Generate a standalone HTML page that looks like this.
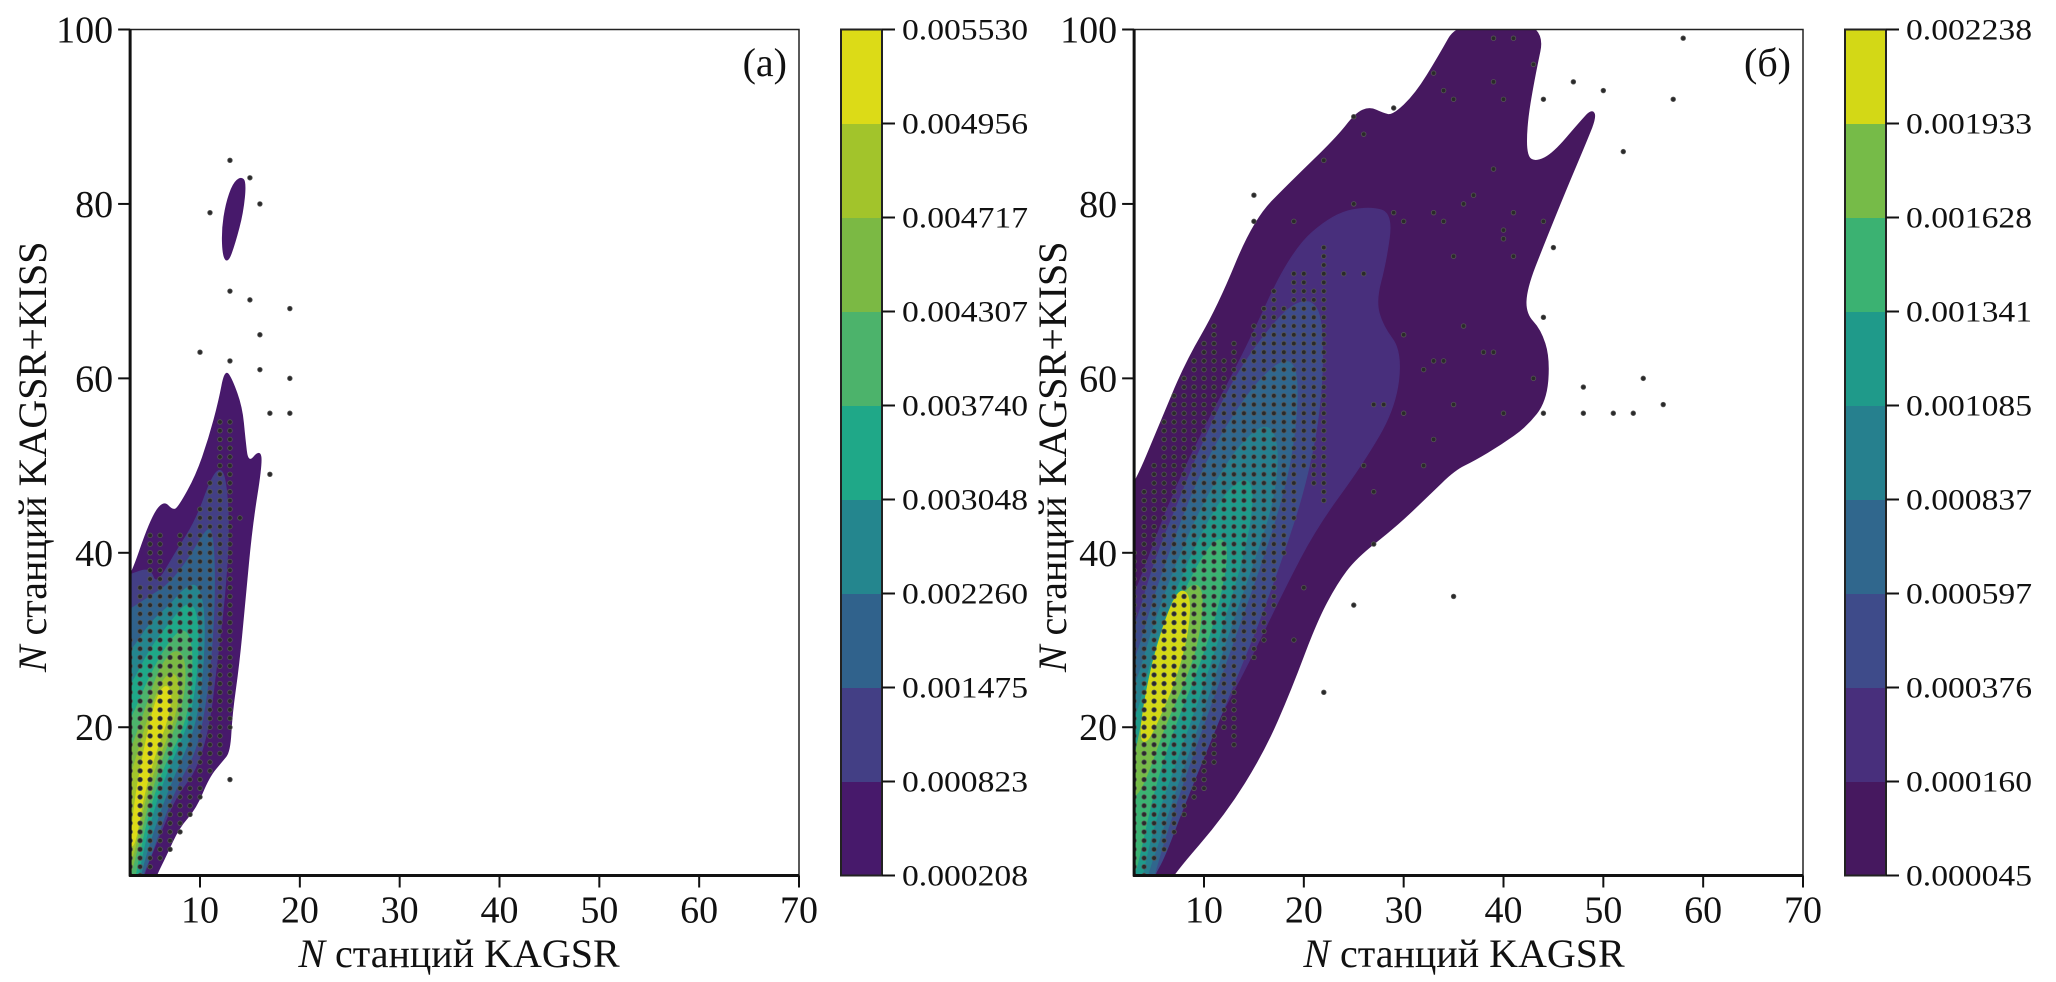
<!DOCTYPE html>
<html><head><meta charset="utf-8">
<style>
html,body{margin:0;padding:0;background:#fff;}
svg{display:block;}
text{font-family:"Liberation Serif",serif;fill:#111;}
</style></head>
<body>
<svg id="fig" width="2056" height="982" viewBox="0 0 2056 982" xmlns="http://www.w3.org/2000/svg"></svg>
<script>
// ---------- data ----------
const xTicks = [10,20,30,40,50,60,70];
const yTicks = [20,40,60,80,100];
const cbLabelsA = ['0.005530','0.004956','0.004717','0.004307','0.003740','0.003048','0.002260','0.001475','0.000823','0.000208'];
const cbLabelsB = ['0.002238','0.001933','0.001628','0.001341','0.001085','0.000837','0.000597','0.000376','0.000160','0.000045'];
const colorsA = ['#47196b','#433f85','#30628c','#24868e','#1fa888','#4cb36b','#7bb944','#a2c42b','#dcdb17'];
const colorsB = ['#46185f','#482f7c','#3e4b8a','#30678d','#26808e','#1f9a8a','#3bb272','#76bb48','#d3d816'];

// contour levels (data coords) panel a
const levelsA = [
 [[2,2],[2,36.5],[3,37],[5,43.7],[6.3,46],[7.3,44.8],[7.9,45.3],[9.6,48.8],[10.9,53.1],[11.9,57.4],[12.5,61],[13.2,59.9],[14.2,56.7],[14.5,53.1],[14.8,50.2],[16,51.8],[16.2,50.2],[15.2,43],[14.5,34.4],[13.9,27.2],[13.2,21.5],[13,17.2],[12.2,16.1],[10.9,14.3],[9.6,10.7],[7.9,8.5],[6.6,5.3],[5.6,3],[5,1]],
 [[2,2],[2,37],[3,37.5],[5,38.3],[5.6,36.2],[7.6,40.1],[9.6,43.7],[11.2,48.8],[12.2,49.8],[12.7,47.3],[12.9,42.3],[12.5,35.1],[11.6,26.5],[10.9,20],[9.6,15],[7.6,12.1],[6,7.8],[4.3,3],[4,1]],
 [[2,2],[2,33],[3,33.5],[5,35],[7,36.5],[9,39.5],[10.5,42.5],[11.2,42.8],[11.5,38],[11.3,30],[10.5,22],[9.5,17],[8,14],[6.5,10],[5,5],[4.2,3],[4,1]],
 [[2,2],[2,28],[3,28.5],[5,32],[7,34],[8.5,36],[9.8,36.5],[10.5,33],[10.3,26],[9.5,20],[8,16],[6.5,12],[5,7],[4,3],[3.8,1]],
 [[2,2],[2,24],[3,24.5],[5,29],[7,32],[8.8,34.5],[9.8,33],[9.8,27],[9,21],[7.5,17],[6,13],[4.5,7],[3.8,3],[3.6,1]],
 [[2,2],[2,20],[3,20.5],[5,26],[7,30],[8.5,31.5],[9.3,29],[9,23],[8,19],[6.5,16],[5,11],[3.8,5],[3.4,2]],
 [[2,3],[2,16],[3,17],[4.5,22],[6,27],[7.5,29],[8.5,28],[8.5,24],[7.5,20],[6,16],[4.5,10],[3.5,5],[3,3]],
 [[2,4],[2,13],[3,14],[4.5,20],[6,25],[7.2,26.5],[8,25],[7.5,21],[6,17],[4.5,12],[3.5,6],[3,4.5]],
 [[3,6],[3.5,12],[4.5,18],[5.5,23],[6.5,25],[7.2,24],[6.8,21],[5.5,17],[4.3,12],[3.6,7]]
];
const islandA = [[12.3,74],[12.2,77],[12.6,80],[13.3,82.3],[14.1,83.1],[14.6,82.5],[14.3,79],[13.5,75.5],[12.8,73.3]];

const levelsB = [
 [[2,2],[2,47],[3,47.7],[5.5,54.5],[8.1,61.7],[11.4,68.2],[15,78.2],[18.7,82.5],[23.3,87.6],[25.2,90.4],[26.6,91.1],[27.9,90.4],[28.9,90.1],[31.2,92.6],[33.5,96.9],[35.5,101],[44.3,101],[43,94],[42.3,89],[42.3,85.4],[43.3,84.8],[45,85.8],[47.6,89.3],[48.8,90.8],[49.3,90.1],[48.3,87.2],[46.3,81.8],[44,75.3],[42.3,70.3],[42.2,67.4],[43.7,65.6],[44.6,62.4],[44.3,57.4],[42.3,54.5],[39.7,52.4],[37.1,50.6],[35.1,49.5],[32.5,46.6],[29.2,43],[25.2,39.4],[23.3,36.5],[21.3,32.2],[18.7,24.3],[16,17.2],[12.1,10],[6.8,3],[6,1]],
 [[2,2],[2,35],[3,35.1],[4.2,38.7],[6.8,46.6],[10.1,54.5],[14.1,63.1],[18.7,74.6],[23,78.9],[26.6,79.7],[28.9,78.9],[28.2,73.2],[27.2,68.9],[27.9,66],[29.8,63.1],[29.2,56.7],[25.9,50.2],[21.3,43],[18,35.8],[14.7,27.9],[11.4,20.7],[8.1,13.6],[5.5,7.8],[4.2,3],[4,1]],
 [[2,2],[2,31],[3,31],[5,39],[7.5,46],[10,53],[13,60],[16,65],[19,68.8],[21.5,68.8],[22,63],[21.5,55],[20,47],[18,40],[15.5,32],[13,25],[10.5,18],[8,11],[6,5],[5,3],[4.5,1]],
 [[2,2],[2,27],[3,27],[5,35],[7.5,43],[10,50],[13,56],[16,60.5],[18.5,62.5],[19.5,60],[19,52],[17.5,45],[15.5,38],[13,30],[10.5,22],[8,14],[6,7],[5,3],[4.5,1]],
 [[2,2],[2,24],[3,24],[5,32],[8,41],[11,48],[14,53],[16.5,55],[17.5,52],[17,46],[15,39],[12.5,31],[10,22],[7.5,14],[5.5,7],[4.3,3],[4,1]],
 [[2,2],[2,20],[3,20],[5,29],[8,38],[11,45],[13.5,48.5],[15,48],[14.5,42],[12.5,34],[10,25],[7.5,17],[5,9],[3.8,3],[3.5,1]],
 [[2,3],[2,14],[3,14],[4.5,24],[7,33],[9.5,39],[11.5,42],[12.5,40.5],[11.5,34],[9.5,27],[7,20],[5,13],[3.5,5],[3,3]],
 [[2,12],[3,16],[4.5,25],[6.5,32],[8.5,36.5],[10,36],[9.5,30],[8,25],[6,20],[4.5,15],[3.3,12]],
 [[4.2,18],[3.5,19],[4.5,26],[6,32],[7.5,36],[8.7,35],[8.3,30],[7,25],[5.5,21]]
];

// scatter: columns [x, ymin, ymax] of integer-grid observations, plus outliers
const colsA = [[3,3,30],[4,3,36],[5,4,42],[6,5,42],[7,6,38],[8,8,42],[9,10,42],[10,12,45],[11,15,48],[12,17,55],[13,20,55]];
const outA = [[13,85],[15,83],[11,79],[16,80],[13,70],[15,69],[19,68],[10,63],[16,65],[13,62],[16,61],[19,60],[17,56],[19,56],[17,49],[13,14],[14,44]];
const colsB = [[3,3,40],[4,3,47],[5,5,50],[6,6,55],[7,8,58],[8,10,60],[9,12,62],[10,13,64],[11,16,66],[12,20,62],[13,18,64],[14,28,62],[15,28,66],[16,30,68],[17,34,70],[18,40,68],[19,44,72],[20,50,72],[21,48,70],[22,46,75]];
const outB = [[29,91],[22,85],[26,88],[25,90],[15,81],[15,78],[19,78],[25,80],[29,79],[30,78],[33,79],[34,78],[37,81],[39,84],[41,79],[40,77],[35,74],[44,78],[45,75],[41,74],[44,67],[38,63],[39,63],[33,62],[34,62],[30,65],[36,66],[32,61],[43,60],[44,56],[48,59],[48,56],[51,56],[53,56],[54,60],[56,57],[40,56],[35,57],[30,56],[27,57],[28,57],[33,53],[32,50],[26,50],[27,47],[27,41],[25,34],[35,35],[22,24],[19,30],[20,36],[33,95],[34,93],[39,99],[41,99],[43,96],[47,94],[50,93],[44,92],[57,92],[58,99],[52,86],[39,94],[40,92],[35,92],[36,80],[40,76],[26,72],[24,72]];

// ---------- drawing ----------
const NS='http://www.w3.org/2000/svg';
const svg=document.getElementById('fig');
function el(tag,attrs,parent){const e=document.createElementNS(NS,tag);for(const k in attrs)e.setAttribute(k,attrs[k]);(parent||svg).appendChild(e);return e;}

const yTop=29.5, yBot=875.5;
function yScale(v){return yBot-(v-3)*(yBot-yTop)/97;}

function smoothPath(P){
  const n=P.length;
  const mid=(a,b)=>[(a[0]+b[0])/2,(a[1]+b[1])/2];
  let m0=mid(P[n-1],P[0]);
  let d='M'+m0[0].toFixed(1)+','+m0[1].toFixed(1);
  for(let i=0;i<n;i++){
    const c=P[i], m=mid(P[i],P[(i+1)%n]);
    d+='Q'+c[0].toFixed(1)+','+c[1].toFixed(1)+' '+m[0].toFixed(1)+','+m[1].toFixed(1);
  }
  return d+'Z';
}

function panel(opts){
  const g=el('g',{});
  
  
  const x10=opts.x10, x70=opts.x70, per=(x70-x10)/60;
  const xS=v=>x10+(v-10)*per;
  const xL=xS(3);
  const clip=el('clipPath',{id:'clip'+opts.id},g);
  el('rect',{x:xL,y:yTop,width:x70-xL,height:yBot-yTop},clip);
  const cg=el('g',{'clip-path':'url(#clip'+opts.id+')'},g);
  const toPath=pts=>smoothPath(pts.map(p=>[xS(p[0]),yScale(p[1])]));
  opts.levels.forEach((pts,i)=>{
    const p=el('path',{d:toPath(pts),fill:opts.colors[i],stroke:opts.colors[i],'stroke-width':1,'stroke-linejoin':'round'},cg);
    
    
  });
  if(opts.island){
    const p=el('path',{d:toPath(opts.island),fill:opts.colors[0],stroke:opts.colors[0],'stroke-linejoin':'round'},cg);
    
    
  }
  const pg=el('g',{fill:'#2a2a2a',stroke:'#555','stroke-width':0.8},cg);
  
  
  opts.cols.forEach(c=>{for(let y=c[1];y<=c[2];y++){const d=el('circle',{cx:xS(c[0]),cy:yScale(y),r:2.3},pg);
    
    }});
  opts.out.forEach(o=>{const d=el('circle',{cx:xS(o[0]),cy:yScale(o[1]),r:2.3},pg);
    
    });
  // frame
  const fr=el('rect',{x:xL,y:yTop,width:x70-xL,height:yBot-yTop,fill:'none',stroke:'#222','stroke-width':1.5},g);
  
  
  el('line',{x1:xL,y1:yTop,x2:xL,y2:yBot+1,stroke:'#111','stroke-width':3},g);
  el('line',{x1:xL-1,y1:yBot,x2:x70,y2:yBot,stroke:'#111','stroke-width':3},g);
  xTicks.forEach(t=>{
    el('line',{x1:xS(t),y1:yBot,x2:xS(t),y2:yBot+12,stroke:'#111','stroke-width':2},g);
    const tx=el('text',{x:xS(t),y:yBot+47,'text-anchor':'middle','font-size':38},g);
    tx.textContent=t;
    
    
  });
  yTicks.forEach(t=>{
    el('line',{x1:xL-12,y1:yScale(t),x2:xL,y2:yScale(t),stroke:'#111','stroke-width':2},g);
    const tx=el('text',{x:xL-17,y:yScale(t)+13,'text-anchor':'end','font-size':38},g);
    tx.textContent=t;
    
    
  });
  const xl=el('text',{x:opts.xlabX,y:967,'text-anchor':'middle','font-size':40},g);
  xl.innerHTML='<tspan font-style="italic">N</tspan> станций KAGSR';
  
  
  const yl=el('text',{x:0,y:0,'text-anchor':'middle','font-size':40,transform:'translate('+opts.ylabX+','+(yScale(51))+') rotate(-90)'},g);
  yl.innerHTML='<tspan font-style="italic">N</tspan> станций KAGSR+KISS';
  
  
  const pl=el('text',{x:x70-12,y:76,'text-anchor':'end','font-size':40},g);
  pl.textContent=opts.tag;
  
  
  // colorbar
  const cb=el('g',{},g);
  
  
  const n=opts.colors.length, bh=(yBot-yTop)/n;
  opts.colors.forEach((c,i)=>{
    el('rect',{x:opts.cbX,y:yBot-(i+1)*bh,width:41,height:bh+0.5,fill:c},cb);
  });
  el('rect',{x:opts.cbX,y:yTop,width:41,height:yBot-yTop,fill:'none',stroke:'#222','stroke-width':2},cb);
  opts.cbLabels.forEach((lab,i)=>{
    const y=yTop+i*bh;
    el('line',{x1:opts.cbX+41,y1:y,x2:opts.cbX+54,y2:y,stroke:'#111','stroke-width':2},cb);
    const tx=el('text',{x:opts.cbX+61,y:y+10,'font-size':30,textLength:126,lengthAdjust:'spacingAndGlyphs'},cb);
    tx.textContent=lab;
    
    
  });
}

panel({id:'a',name:'panel-a',x10:200,x70:799,levels:levelsA,island:islandA,colors:colorsA,cols:colsA,out:outA,
  xlabX:459,ylabX:46,tag:'(a)',cbX:841,cbLabels:cbLabelsA});
panel({id:'b',name:'panel-b',x10:1204,x70:1803,levels:levelsB,colors:colorsB,cols:colsB,out:outB,
  xlabX:1464,ylabX:1066,tag:'(б)',cbX:1845,cbLabels:cbLabelsB});
</script>
</body></html>
